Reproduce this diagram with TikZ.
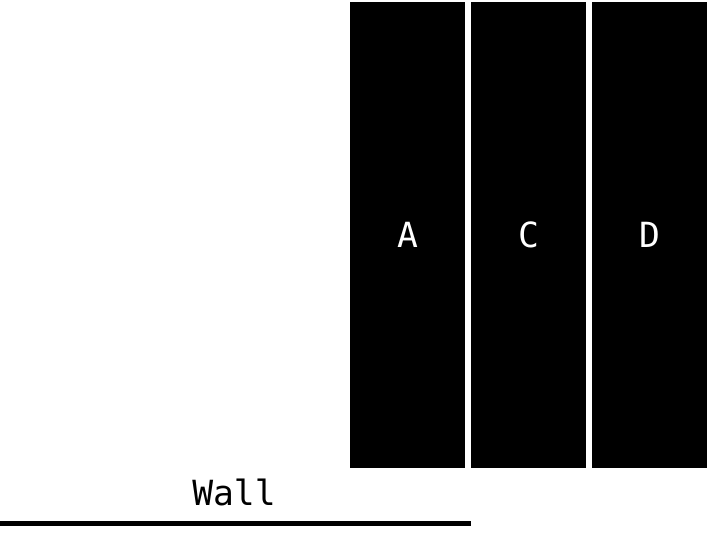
\documentclass[tikz,border=0pt]{standalone}
\usepackage{fontspec}
\setmonofont{DejaVu Sans Mono}
\usetikzlibrary{positioning}

\tikzset{
	slab/.style={fill=black, text=white, inner sep=0pt, minimum width=115*0.75pt, minimum height=466*0.75pt, font=\ttfamily\fontsize{26}{30}\selectfont},
	walltext/.style={inner sep=0pt, font=\ttfamily\fontsize{26}{30}\selectfont},
}

\begin{document}
\begin{tikzpicture}[x=0.75pt, y=-0.75pt]
		\useasboundingbox (0,0) rectangle (709,538);
		\node [slab] (slabA) at (407.5,235) {A};
		\node [slab, right=5.5*0.75pt of slabA] (slabC) {C};
		\node [slab, right=5.5*0.75pt of slabC] (slabD) {D};
		\node [walltext, anchor=base] (wall) at (234,505) {Wall};
		\coordinate (wallL) at (0,523.5);
		\coordinate (wallR) at (470.5,523.5);
		\draw [line width=5*0.75pt] (wallL) -- (wallR);
	\end{tikzpicture}
\end{document}
